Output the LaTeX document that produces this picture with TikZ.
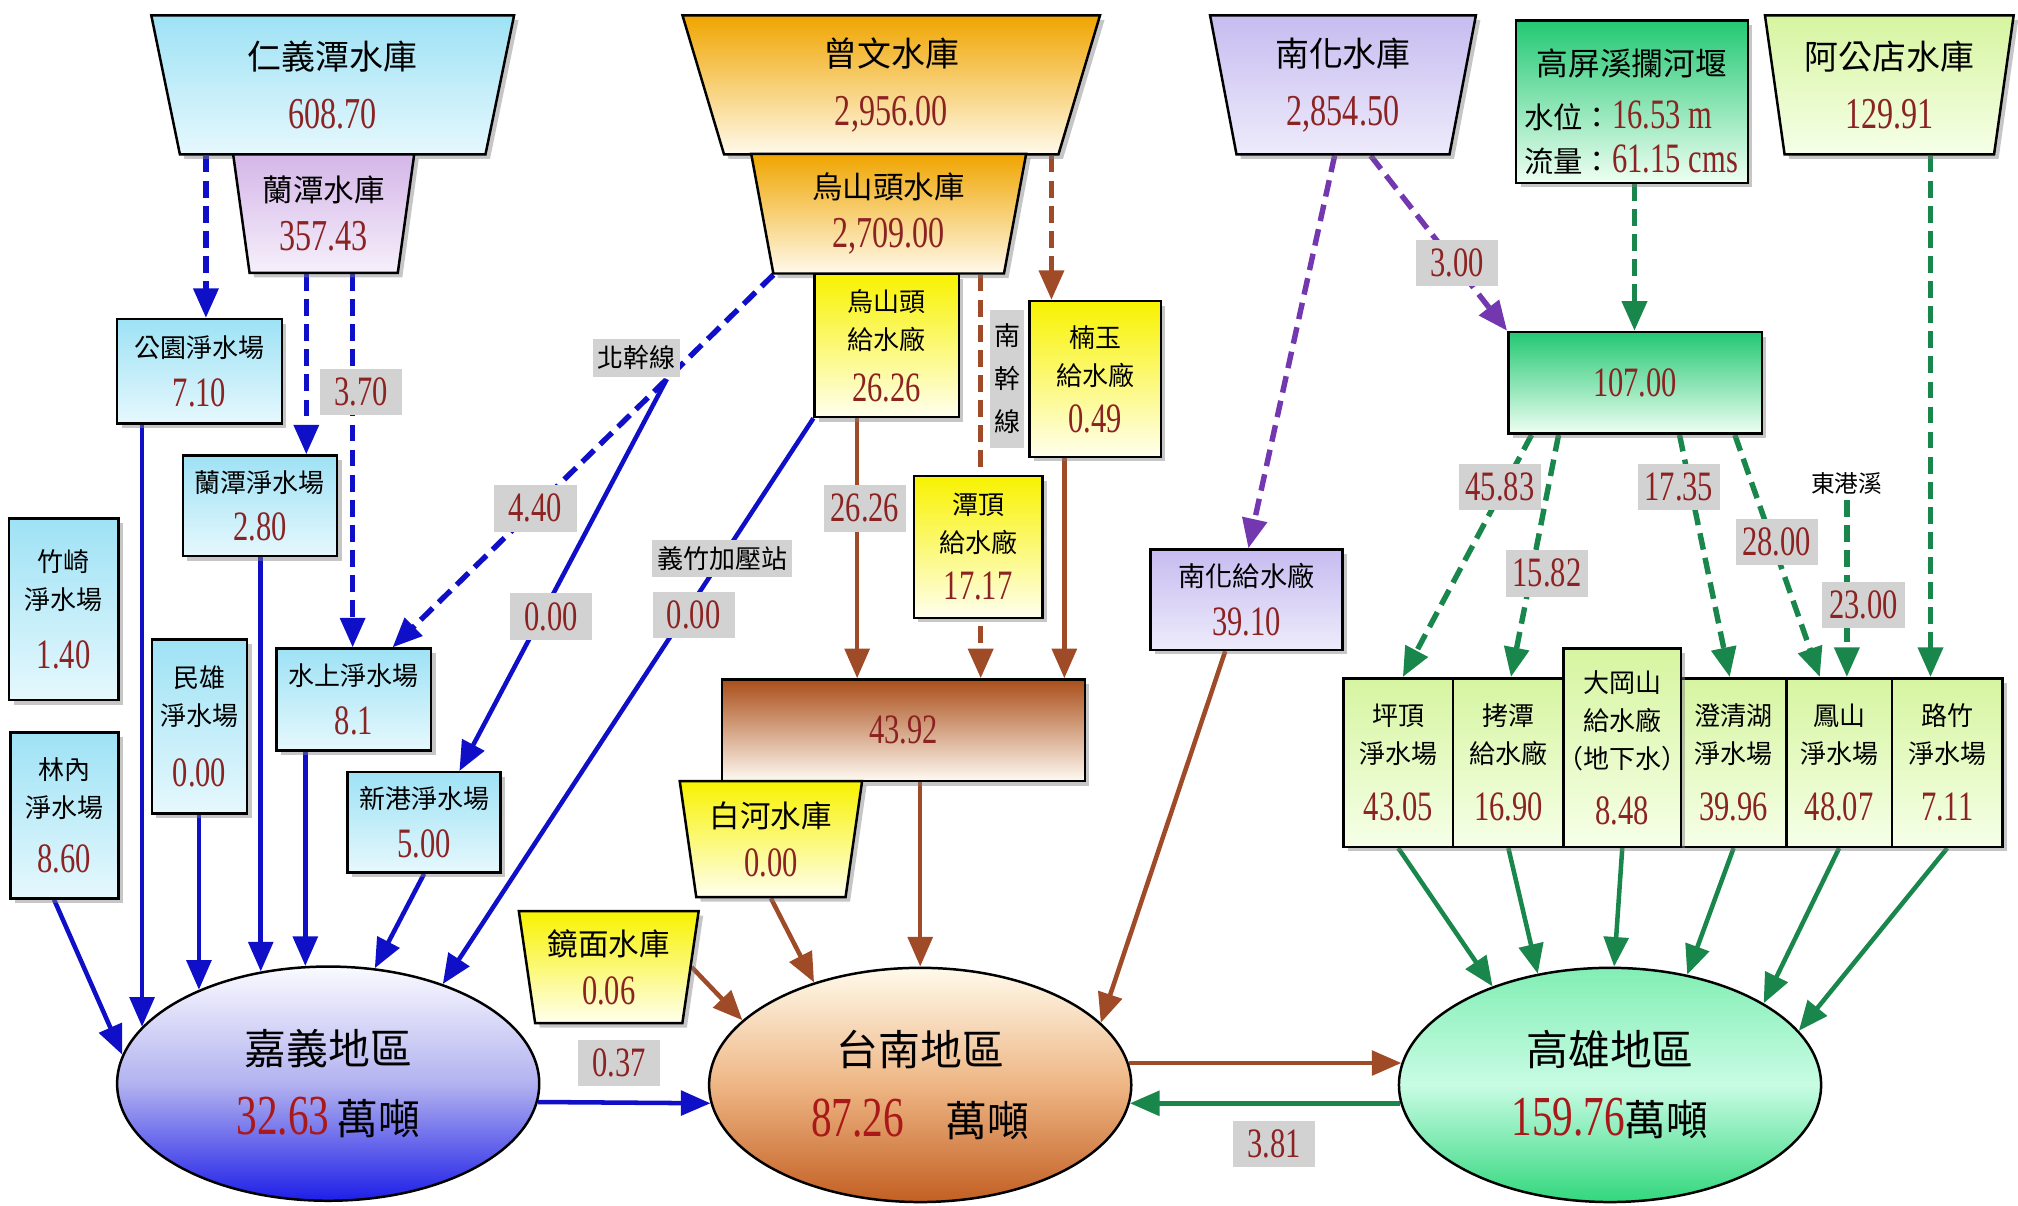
\documentclass[tikz,border=0pt]{standalone}
\usepackage{fontspec}
\setmainfont{Noto Sans CJK TC}
\newfontfamily\numfont[FakeStretch=0.73]{Liberation Serif}
\usepackage{tikz}
\usetikzlibrary{shapes.geometric, arrows.meta, shadows, backgrounds, calc}

\definecolor{numred}{RGB}{140,35,35}
\definecolor{regred}{RGB}{170,25,25}
\definecolor{labgray}{RGB}{210,210,210}
\definecolor{flowblue}{RGB}{15,15,200}
\definecolor{flowbrown}{RGB}{160,75,40}
\definecolor{flowgreen}{RGB}{25,135,75}
\definecolor{flowpurple}{RGB}{115,55,175}
\definecolor{cyantop}{RGB}{158,226,245}
\definecolor{cyanbot}{RGB}{230,248,253}
\definecolor{lilactop}{RGB}{212,182,232}
\definecolor{lilacbot}{RGB}{246,240,251}
\definecolor{orangetop}{RGB}{240,165,0}
\definecolor{orangebot}{RGB}{255,250,235}
\definecolor{yellowtop}{RGB}{248,242,0}
\definecolor{yellowbot}{RGB}{255,255,238}
\definecolor{browntop}{RGB}{170,78,25}
\definecolor{brownbot}{RGB}{255,250,242}
\definecolor{lavtop}{RGB}{198,188,240}
\definecolor{lavbot}{RGB}{238,235,251}
\definecolor{greentop}{RGB}{35,200,115}
\definecolor{greenbot}{RGB}{238,255,242}
\definecolor{limetop}{RGB}{214,245,160}
\definecolor{limebot}{RGB}{246,255,232}
\definecolor{jytop}{RGB}{250,250,255}
\definecolor{jymid}{RGB}{178,178,240}
\definecolor{jybot}{RGB}{30,30,232}
\definecolor{tntop}{RGB}{255,250,235}
\definecolor{tnmid}{RGB}{238,182,132}
\definecolor{tnbot}{RGB}{195,95,35}
\definecolor{kstop}{RGB}{130,238,180}
\definecolor{ksmid}{RGB}{200,252,228}
\definecolor{ksbot}{RGB}{50,215,125}

\def\pxu{0.02cm}
\newcommand{\vnum}[1]{{\numfont\fontsize{18.5}{18.5}\selectfont\color{numred}#1}}
\newcommand{\vres}[1]{{\numfont\fontsize{19.5}{19.5}\selectfont\color{numred}#1}}
\newcommand{\vreg}[1]{{\numfont\fontsize{25}{25}\selectfont\color{regred}#1}}

\tikzset{>={Triangle[length=0.46cm, width=0.38cm]}}
\tikzset{
  wh/.style 2 args={minimum width=#1*\pxu, minimum height=#2*\pxu},
  wbox/.style={draw=black, line width=1.1pt, inner sep=1pt, align=center,
    drop shadow={shadow xshift=2pt, shadow yshift=-2pt, opacity=0.45}},
  resv/.style={wbox, trapezium, trapezium left angle=100,
    trapezium right angle=100, trapezium stretches=true},
  region/.style={ellipse, draw=black, line width=1.1pt, inner sep=0pt,
    align=center, wh={328}{182}, font=\fontsize{18.5}{31}\selectfont},
  fbig/.style={font=\fontsize{15}{26}\selectfont},
  fmid/.style={font=\fontsize{13.5}{21.5}\selectfont},
  ftwo/.style={font=\fontsize{11.5}{21.5}\selectfont},
  fthree/.style={font=\fontsize{11.5}{16.8}\selectfont},
  flab/.style={fill=labgray, inner sep=0pt, wh={64}{36}, text=numred,
    font=\numfont\fontsize{18.5}{18.5}\selectfont},
  tlab/.style={fill=labgray, inner xsep=2pt, inner ysep=3pt,
    font=\fontsize{11.5}{19}\selectfont},
  cyanfill/.style={top color=cyantop, bottom color=cyanbot},
  lilacfill/.style={top color=lilactop, bottom color=lilacbot},
  orangefill/.style={top color=orangetop, bottom color=orangebot},
  yellowfill/.style={top color=yellowtop, bottom color=yellowbot},
  brownfill/.style={top color=browntop, bottom color=brownbot},
  lavfill/.style={top color=lavtop, bottom color=lavbot},
  greenfill/.style={top color=greentop, bottom color=greenbot},
  limefill/.style={top color=limetop, bottom color=limebot},
  flow/.style={line width=2pt, ->},
  pipe/.style={line width=2.4pt, dash pattern=on 0.26cm off 0.13cm},
  bflow/.style={flow, color=flowblue},
  rflow/.style={flow, color=flowbrown},
  gflow/.style={flow, color=flowgreen},
  pflow/.style={flow, color=flowpurple}
}

\begin{document}
\begin{tikzpicture}[x=0.02cm, y=-0.02cm]
\useasboundingbox (0,0) rectangle (1568,937);

% reservoirs
\node[resv, wh={283}{108}, cyanfill, fbig] (renyi) at (258.5,66) {仁義潭水庫\\\vres{608.70}};
\node[resv, wh={141}{92}, lilacfill, fmid] (lantan) at (251.5,166) {蘭潭水庫\\\vres{357.43}};
\node[resv, wh={325}{108}, orangefill, fbig] (zengwen) at (692.5,66) {曾文水庫\\\vres{2,956.00}};
\node[resv, wh={215}{93}, orangefill, fmid] (wushantou) at (690.5,166) {烏山頭水庫\\\vres{2,709.00}};
\node[resv, wh={207}{108}, lavfill, fbig] (nanhua) at (1043.5,66) {南化水庫\\\vres{2,854.50}};
\node[resv, wh={194}{108}, limefill, fbig] (agongdian) at (1468,66) {阿公店水庫\\\vres{129.91}};
\node[wbox, wh={180}{126}, greenfill, font=\fontsize{14}{19.5}\selectfont] (gaoping) at (1268,79)
  {\rule{0pt}{21pt}高屏溪攔河堰\\[4pt]\makebox[3.35cm][l]{\fontsize{13}{19.5}\selectfont 水位：\vnum{16.53 m}}\\
   \makebox[3.35cm][l]{\fontsize{13}{19.5}\selectfont 流量：\vnum{61.15 cms}}};

% chiayi plants
\node[wbox, wh={128}{81}, cyanfill, ftwo] (gongyuan) at (155,288.5) {公園淨水場\\\vnum{7.10}};
\node[wbox, wh={120}{78}, cyanfill, ftwo] (lantanjs) at (202,393) {蘭潭淨水場\\\vnum{2.80}};
\node[wbox, wh={85}{141}, cyanfill, fthree] (zhuqi) at (49.5,473.5) {竹崎\\淨水場\\[9pt]\vnum{1.40}};
\node[wbox, wh={74}{135}, cyanfill, fthree] (minxiong) at (155,564.5) {民雄\\淨水場\\[10pt]\vnum{0.00}};
\node[wbox, wh={120}{79}, cyanfill, ftwo] (shuishang) at (275,543.5) {水上淨水場\\\vnum{8.1}};
\node[wbox, wh={119}{78}, cyanfill, ftwo] (xingang) at (329.5,639) {新港淨水場\\\vnum{5.00}};
\node[wbox, wh={84}{129}, cyanfill, fthree] (linnei) at (50,633.5) {林內\\淨水場\\[7.5pt]\vnum{8.60}};

% tainan plants
\node[wbox, wh={112}{111}, yellowfill, fthree] (wstplant) at (689,268.5) {烏山頭\\給水廠\\[6pt]\vnum{26.26}};
\node[wbox, wh={102}{121}, yellowfill, fthree] (nanyu) at (851,294.5) {楠玉\\給水廠\\[4pt]\vnum{0.49}};
\node[wbox, wh={100}{110}, yellowfill, fthree] (tanding) at (760,425) {潭頂\\給水廠\\[4pt]\vnum{17.17}};
\node[wbox, wh={282}{79}, brownfill] (tainanmix) at (702,567.5) {\vnum{43.92}};
\node[resv, wh={142}{90}, yellowfill, fmid] (baihe) at (599,652) {白河水庫\\\vnum{0.00}};
\node[resv, wh={140}{87}, yellowfill, fmid] (jingmian) at (473,751.5) {鏡面水庫\\\vnum{0.06}};
\node[wbox, wh={149}{78}, lavfill, ftwo, font=\fontsize{12}{21.5}\selectfont] (nanhuaplant) at (968.5,466) {南化給水廠\\\vnum{39.10}};

% kaohsiung plants
\node[wbox, wh={197}{79}, greenfill] (kpmix) at (1270.5,297.5) {\vnum{107.00}};
\foreach \nm/\cx/\w/\lna/\lnb/\val in {pingding/1086.5/85/坪頂/淨水場/43.05,
    kaotan/1172/86/拷潭/給水廠/16.90, chengqing/1347/82/澄清湖/淨水場/39.96,
    fengshan/1429/82/鳳山/淨水場/48.07, luzhu/1513/86/路竹/淨水場/7.11}
  \node[wbox, wh={\w}{131}, limefill, fthree] (\nm) at (\cx,592.5) {\lna\\\lnb\\[8.5pt]\vnum{\val}};
\node[wbox, wh={91}{154}, limefill, fthree] (dagangshan) at (1260.5,581)
  {大岡山\\給水廠\\\makebox[0pt]{（地下水）}\\[8pt]\vnum{8.48}};

% regions
\node[region, top color=jytop, bottom color=jybot, middle color=jymid] (jiayi) at (255,842) {嘉義地區\\\vreg{32.63}\,萬噸};
\node[region, top color=tntop, bottom color=tnbot, middle color=tnmid] (tainan) at (715,843) {台南地區\\\vreg{87.26}\quad 萬噸};
\node[region, top color=kstop, bottom color=ksbot, middle color=ksmid] (kaohsiung) at (1251,843) {高雄地區\\\vreg{159.76}萬噸};

% labels
\node[flab] (l370) at (280.5,304.5) {3.70};
\node[tlab] (lbeigan) at (494.5,278) {北幹線};
\node[flab] (l440) at (416,395) {4.40};
\node[flab] (l000a) at (428,479) {0.00};
\node[tlab] (lyizhu) at (561,434) {義竹加壓站};
\node[flab] (l000b) at (539,478) {0.00};
\node[flab] (l2626) at (672,395) {26.26};
\node[tlab, align=center, wh={27}{107}, inner sep=0pt] (lnangan) at (782.5,294.5) {南\\幹\\線};
\node[flab] (l300) at (1132,204.5) {3.00};
\node[flab] (l4583) at (1165.5,378.5) {45.83};
\node[flab] (l1582) at (1202,445.5) {15.82};
\node[flab] (l1735) at (1304.5,378.5) {17.35};
\node[flab] (l2800) at (1380.5,421) {28.00};
\node[font=\fontsize{10.5}{12}\selectfont, inner sep=2pt] (ldonggang) at (1435,376) {東港溪};
\node[flab] (l2300) at (1448,470) {23.00};
\node[flab] (l037) at (481,826) {0.37};
\node[flab] (l381) at (990,889) {3.81};

\begin{scope}[on background layer]
  % chiayi
  \draw[bflow, pipe] (renyi.south -| 160,0) -- (gongyuan.north -| 160,0);
  \draw[bflow, pipe] (lantan.south -| 238,0) -- (lantanjs.north -| 238,0);
  \draw[bflow, pipe] (lantan.south -| 274,0) -- (shuishang.north -| 274,0);
  \draw[bflow, pipe] (wushantou.south -| 601,0) -- (shuishang.north -| 305,0);
  \coordinate (beiganfork) at ($(wushantou.south -| 601,0)!0.28!(shuishang.north -| 305,0)$);
  \draw[bflow] (beiganfork) -- (xingang.north -| 357,0);
  \draw[bflow] (wstplant.south west) -- (jiayi.41);
  \foreach \nm/\ang in {gongyuan/163, minxiong/144, lantanjs/121, shuishang/101}
    \draw[bflow] (\nm.south -| jiayi.\ang) -- (jiayi.\ang);
  \draw[bflow] (linnei.south -| 42,0) -- (jiayi.172);
  \draw[bflow] (xingang.south) -- (jiayi.68);
  \draw[bflow] (jiayi.-5) -- (tainan.185);

  % tainan
  \draw[rflow, pipe] (zengwen.south -| 817,0) -- (nanyu.north -| 817,0);
  \draw[rflow, pipe] (wushantou.south -| 762,0) -- (tainanmix.north -| 762,0);
  \draw[rflow] (wstplant.south -| 666,0) -- (tainanmix.north -| 666,0);
  \draw[rflow] (nanyu.south -| 827,0) -- (tainanmix.north -| 827,0);
  \draw[rflow] (tainanmix.south -| tainan.north) -- (tainan.north);
  \draw[rflow] (baihe.south) -- (tainan.136);
  \draw[rflow] (jingmian.east) -- (tainan.160);
  \draw[rflow] (nanhuaplant.south -| 952,0) -- (tainan.19);
  \draw[rflow] (tainan.6) -- (kaohsiung.174);

  \draw[pflow, pipe] (nanhua.south -| 1037,0) -- (nanhuaplant.north -| 970,0);
  \draw[pflow, pipe] (nanhua.south -| 1065,0) -- (kpmix.north west);

  % kaohsiung
  \draw[gflow, pipe] (gaoping.south -| 1270,0) -- (kpmix.north -| 1270,0);
  \draw[gflow, pipe] (kpmix.south -| 1190,0) -- (pingding.north -| 1090,0);
  \draw[gflow, pipe] (kpmix.south -| 1211,0) -- (kaotan.north -| 1174,0);
  \draw[gflow, pipe] (kpmix.south -| 1305,0) -- (chengqing.north -| 1344,0);
  \draw[gflow, pipe] (kpmix.south -| 1348,0) -- (fengshan.north -| 1414,0);
  \draw[gflow, pipe] (ldonggang.south) -- (fengshan.north -| ldonggang.south);
  \draw[gflow, pipe] (agongdian.south -| 1500,0) -- (luzhu.north -| 1500,0);
  \foreach \nm/\ang in {pingding/140, kaotan/123, dagangshan/88, chengqing/55, fengshan/28, luzhu/16}
    \draw[gflow] (\nm.south) -- (kaohsiung.\ang);
  \draw[gflow] (kaohsiung.185) -- (tainan.-5);
\end{scope}

\end{tikzpicture}
\end{document}
